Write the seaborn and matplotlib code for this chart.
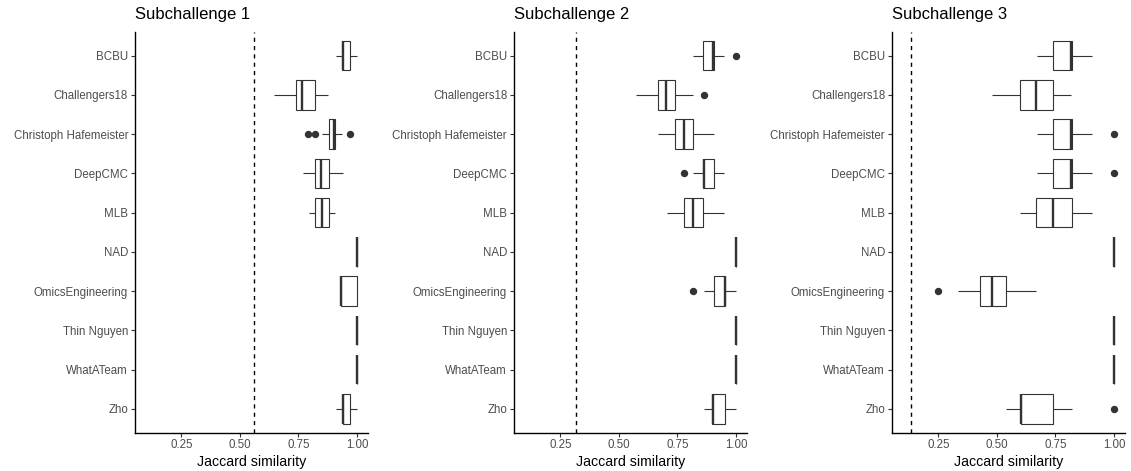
import matplotlib
matplotlib.use("Agg")
import matplotlib.pyplot as plt
import seaborn as sns
import pandas as pd

teams = ["BCBU", "Challengers18", "Christoph Hafemeister", "DeepCMC", "MLB",
         "NAD", "OmicsEngineering", "Thin Nguyen", "WhatATeam", "Zho"]

panel_titles = ["Subchallenge 1", "Subchallenge 2", "Subchallenge 3"]

# Jaccard similarity of each team's runs, per subchallenge (same order as `teams`)
sc1_values = [
    [0.910, 0.930, 0.937, 0.940, 0.940, 0.950, 0.970, 0.980, 1.000],
    [0.647, 0.700, 0.741, 0.750, 0.765, 0.790, 0.822, 0.850, 0.877],
    [0.792, 0.821, 0.852, 0.880, 0.890, 0.900, 0.903, 0.904, 0.905, 0.905, 0.920, 0.937, 0.970],
    [0.768, 0.800, 0.822, 0.835, 0.848, 0.860, 0.879, 0.910, 0.939],
    [0.796, 0.810, 0.822, 0.835, 0.849, 0.860, 0.879, 0.890, 0.906],
    [1.0, 1.0, 1.0, 1.0, 1.0, 1.0, 1.0, 1.0, 1.0],
    [0.930, 0.930, 0.930, 0.930, 0.930, 1.000, 1.000, 1.000, 1.000],
    [1.0, 1.0, 1.0, 1.0, 1.0, 1.0, 1.0, 1.0, 1.0],
    [1.0, 1.0, 1.0, 1.0, 1.0, 1.0, 1.0, 1.0, 1.0],
    [0.909, 0.930, 0.939, 0.940, 0.940, 0.950, 0.970, 0.980, 1.000],
]

sc2_values = [
    [0.818, 0.840, 0.860, 0.880, 0.902, 0.905, 0.908, 0.950, 1.000],
    [0.571, 0.620, 0.666, 0.680, 0.702, 0.720, 0.740, 0.816, 0.863],
    [0.669, 0.700, 0.740, 0.760, 0.778, 0.800, 0.818, 0.860, 0.905],
    [0.778, 0.818, 0.859, 0.861, 0.863, 0.880, 0.905, 0.930, 0.950],
    [0.705, 0.750, 0.778, 0.800, 0.816, 0.840, 0.860, 0.900, 0.950],
    [1.0, 1.0, 1.0, 1.0, 1.0, 1.0, 1.0, 1.0, 1.0],
    [0.818, 0.863, 0.905, 0.930, 0.952, 0.953, 0.955, 0.980, 1.000],
    [1.0, 1.0, 1.0, 1.0, 1.0, 1.0, 1.0, 1.0, 1.0],
    [1.0, 1.0, 1.0, 1.0, 1.0, 1.0, 1.0, 1.0, 1.0],
    [0.863, 0.880, 0.898, 0.900, 0.903, 0.930, 0.952, 0.970, 1.000],
]

sc3_values = [
    [0.670, 0.700, 0.738, 0.780, 0.817, 0.819, 0.821, 0.860, 0.905],
    [0.481, 0.550, 0.599, 0.630, 0.668, 0.700, 0.741, 0.780, 0.817],
    [0.670, 0.700, 0.738, 0.780, 0.817, 0.819, 0.821, 0.905, 1.000],
    [0.670, 0.700, 0.738, 0.780, 0.817, 0.819, 0.821, 0.905, 1.000],
    [0.600, 0.630, 0.667, 0.700, 0.738, 0.780, 0.820, 0.860, 0.905],
    [1.0, 1.0, 1.0, 1.0, 1.0, 1.0, 1.0, 1.0, 1.0],
    [0.250, 0.332, 0.428, 0.450, 0.479, 0.510, 0.539, 0.600, 0.667],
    [1.0, 1.0, 1.0, 1.0, 1.0, 1.0, 1.0, 1.0, 1.0],
    [1.0, 1.0, 1.0, 1.0, 1.0, 1.0, 1.0, 1.0, 1.0],
    [0.539, 0.570, 0.603, 0.604, 0.605, 0.700, 0.741, 0.820, 1.000],
]

# Random-baseline similarity per subchallenge (dashed reference line)
baselines = [0.56, 0.315, 0.132]

x_ticks = [0.25, 0.50, 0.75, 1.00]
x_tick_labels = ["0.25", "0.50", "0.75", "1.00"]

sns.set_theme(style="ticks")
plt.rcParams["font.family"] = ["Liberation Sans", "DejaVu Sans"]

ink = "#333333"
fig = plt.figure(figsize=(11.31, 4.71), dpi=100)

lefts = [135 / 1131, 514 / 1131, 892 / 1131]
width = 233 / 1131
bottom = 1 - 432.5 / 471
height = (432.5 - 32) / 471

for i, values in enumerate([sc1_values, sc2_values, sc3_values]):
    rows = [(team, v) for team, vals in zip(teams, values) for v in vals]
    df = pd.DataFrame(rows, columns=["team", "jaccard"])

    ax = fig.add_axes([lefts[i], bottom, width, height])
    ax.axvline(baselines[i], color="black", lw=1.0, ls=(0, (3, 3)), zorder=1)
    sns.boxplot(
        data=df, x="jaccard", y="team", order=teams, ax=ax,
        color="white", linecolor=ink, linewidth=0.8, width=0.75,
        showcaps=False, saturation=1,
        flierprops=dict(marker="o", markerfacecolor=ink, markeredgecolor=ink,
                        markersize=4.3),
        medianprops=dict(color=ink, linewidth=1.7),
    )

    ax.set_xlim(0.052, 1.047)
    ax.set_ylim(len(teams) - 0.4, -0.6)
    ax.set_xticks(x_ticks)
    ax.set_xticklabels(x_tick_labels)
    ax.set_ylabel("")
    ax.set_xlabel("Jaccard similarity", fontsize=10.2, color="black", labelpad=2.5)
    ax.set_title(panel_titles[i], loc="left", fontsize=12, color="black", pad=9)

    for side in ["top", "right"]:
        ax.spines[side].set_visible(False)
    for side in ["left", "bottom"]:
        ax.spines[side].set_color("black")
        ax.spines[side].set_linewidth(1.0)
    ax.tick_params(axis="both", length=2.75, width=0.8, color=ink,
                   labelsize=8.3, labelcolor="#4d4d4d", pad=2.2)

fig.savefig("out.png", dpi=100)
